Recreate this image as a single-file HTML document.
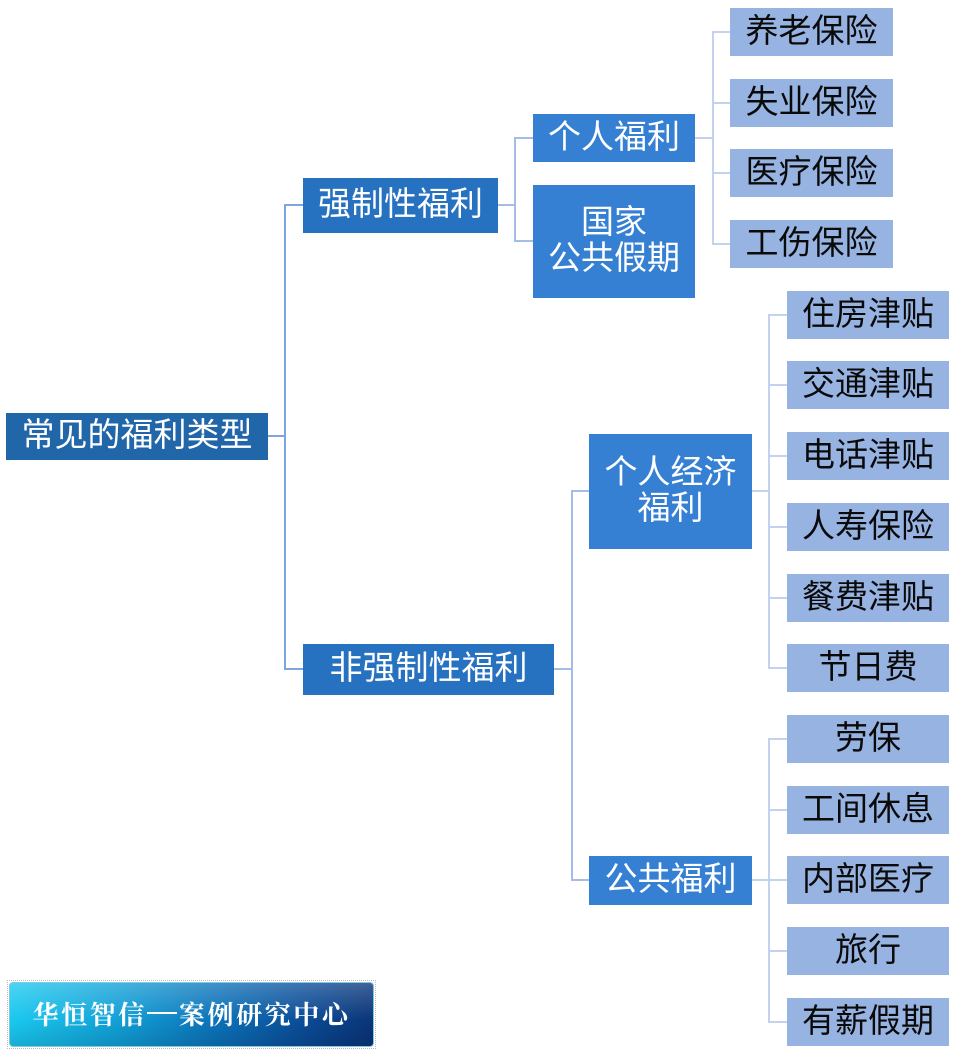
<!DOCTYPE html>
<html>
<head>
<meta charset="utf-8">
<style>
  html, body { margin:0; padding:0; }
  body { width:954px; height:1060px; position:relative; background:#ffffff; overflow:hidden;
         font-family:"Liberation Sans","Noto Sans CJK SC",sans-serif; }
  .b { position:absolute; display:flex; align-items:center; justify-content:center; text-align:center;
       font-size:33px; line-height:36px; color:#fff; box-sizing:border-box; padding-bottom:3px; }
  .r { background:#2166a8; }
  .l1 { background:#2672c0; }
  .l2 { background:#3580d3; }
  .lf { background:#97b3e2; color:#0a0a0a; width:162px; height:48px; }
  svg { position:absolute; left:0; top:0; }
  .badge { position:absolute; left:7px; top:980px; width:369px; height:69px; box-sizing:border-box;
           border:1px dotted #bdbdbd; padding:1px; }
  .badge .in { width:100%; height:100%; border-radius:4px; box-sizing:border-box;
           background:
             linear-gradient(to bottom, rgba(255,255,255,0.22) 0%, rgba(255,255,255,0.05) 45%, rgba(0,0,0,0) 60%, rgba(0,0,0,0.12) 100%),
             linear-gradient(to right, #1ac8ef 0%, #119fd6 30%, #0b6db5 60%, #0a4a95 82%, #0a3478 100%);
           border:1px solid #7fc9e6;
           display:flex; align-items:center; justify-content:center;
           color:#fff; font-family:"Noto Serif CJK SC","Liberation Serif",serif; font-size:26px; font-weight:bold; letter-spacing:2.6px;
           padding-bottom:2px; }
  .dash { display:inline-block; width:30px; height:2px; background:#fff; vertical-align:middle; margin:0 2px 2px 0; }
</style>
</head>
<body>
<svg width="954" height="1060" viewBox="0 0 954 1060">
  <g fill="none" stroke-width="2">
    <path d="M268,436 H285 M285,205 V670 M284,205 H303 M284,669 H303" stroke="#7ea5e0"/>
    <path d="M498,205 H515 M515,138 V242 M514,138 H533 M514,241 H533" stroke="#a4bde8"/>
    <path d="M554,669 H572 M572,491 V881 M571,491 H589 M571,880 H589" stroke="#a4bde8"/>
    <path d="M695,138 H713 M713,32 V245 M712,32 H730 M712,103 H730 M712,173 H730 M712,244 H730" stroke="#c2d2ef"/>
    <path d="M752,491 H769 M769,315 V669 M768,315 H787 M768,385 H787 M768,456 H787 M768,527 H787 M768,598 H787 M768,668 H787" stroke="#c2d2ef"/>
    <path d="M752,880 H769 M769,739 V1023 M768,739 H787 M768,810 H787 M768,880 H787 M768,951 H787 M768,1022 H787" stroke="#c2d2ef"/>
  </g>
</svg>

<div class="b r" style="left:6px;top:413px;width:262px;height:47px;">常见的福利类型</div>

<div class="b l1" style="left:303px;top:178px;width:195px;height:55px;">强制性福利</div>
<div class="b l1" style="left:303px;top:644px;width:251px;height:51px;">非强制性福利</div>

<div class="b l2" style="left:533px;top:114px;width:162px;height:48px;">个人福利</div>
<div class="b l2" style="left:533px;top:185px;width:162px;height:113px;">国家<br>公共假期</div>
<div class="b l2" style="left:589px;top:434px;width:163px;height:115px;">个人经济<br>福利</div>
<div class="b l2" style="left:589px;top:856px;width:163px;height:49px;">公共福利</div>

<div class="b lf" style="left:730px;top:8px;width:163px;">养老保险</div>
<div class="b lf" style="left:730px;top:79px;width:163px;">失业保险</div>
<div class="b lf" style="left:730px;top:149px;width:163px;">医疗保险</div>
<div class="b lf" style="left:730px;top:220px;width:163px;">工伤保险</div>

<div class="b lf" style="left:787px;top:291px;">住房津贴</div>
<div class="b lf" style="left:787px;top:361px;">交通津贴</div>
<div class="b lf" style="left:787px;top:432px;">电话津贴</div>
<div class="b lf" style="left:787px;top:503px;">人寿保险</div>
<div class="b lf" style="left:787px;top:574px;">餐费津贴</div>
<div class="b lf" style="left:787px;top:644px;">节日费</div>

<div class="b lf" style="left:787px;top:715px;">劳保</div>
<div class="b lf" style="left:787px;top:786px;">工间休息</div>
<div class="b lf" style="left:787px;top:856px;">内部医疗</div>
<div class="b lf" style="left:787px;top:927px;">旅行</div>
<div class="b lf" style="left:787px;top:998px;">有薪假期</div>

<div class="badge"><div class="in">华恒智信<span class="dash"></span>案例研究中心</div></div>
</body>
</html>
